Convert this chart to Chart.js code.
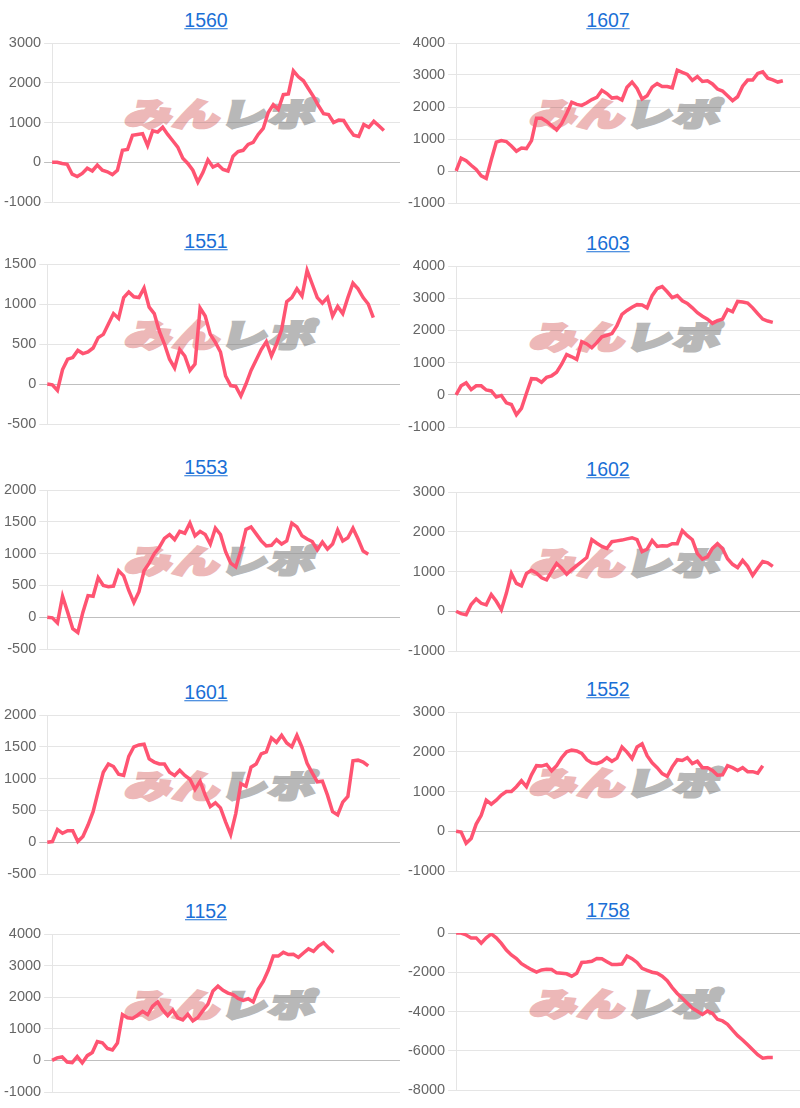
<!DOCTYPE html>
<html><head><meta charset="utf-8">
<script src="https://cdn.jsdelivr.net/npm/chart.js@4.4.1/dist/chart.umd.min.js"></script>
<style>
html,body{margin:0;padding:0;background:#fff;width:800px;height:1108px;overflow:hidden;}
.col{position:absolute;top:0;width:400px;height:1108px;overflow:hidden;}
.ttl{position:absolute;font-family:"Liberation Sans",Arial,sans-serif;font-size:19.5px;color:#1a6fd6;text-decoration:underline;transform:translate(-50%,-50%);white-space:nowrap;line-height:1;}
.wm{position:absolute;transform:translate(-50%,-50%) skewX(-14deg) scaleX(1.45);font-family:"Noto Sans CJK JP",sans-serif;font-weight:900;font-size:32px;white-space:nowrap;line-height:1;z-index:0;letter-spacing:1px;}
.wm .a{color:#edb8b8;-webkit-text-stroke:3px #edb8b8;}
.wm .b{color:#b8b8b8;-webkit-text-stroke:3px #b8b8b8;}
canvas{position:absolute;z-index:1;}
</style>
</head><body>
<div class="col" id="c0" style="left:0"></div>
<div class="col" id="c1" style="left:400px"></div>
<script>
const titles = ['1560','1607','1551','1603','1553','1602','1601','1552','1152','1758'];

const d1560 = [0,0,-30,-50,-300,-360,-280,-150,-220,-70,-200,-240,-310,-200,300,320,680,700,720,420,790,760,880,700,540,380,100,-30,-200,-500,-260,60,-120,-60,-180,-220,150,270,300,450,500,700,850,1250,1450,1330,1700,1720,2300,2150,2050,1850,1650,1420,1220,1200,1000,1060,1050,850,680,650,950,880,1030,920,800];
const d1607 = [0,400,320,180,50,-150,-230,350,900,950,920,780,620,720,700,950,1650,1650,1550,1420,1280,1480,1800,2150,2080,2050,2130,2230,2300,2520,2420,2280,2300,2220,2620,2780,2580,2250,2350,2620,2730,2640,2640,2600,3150,3080,3020,2830,2950,2800,2820,2720,2560,2500,2350,2200,2320,2650,2840,2840,3050,3100,2900,2850,2780,2820];
const d1551 = [0,-10,-80,180,310,330,420,380,400,450,580,620,750,880,820,1080,1150,1090,1080,1200,960,880,660,500,310,200,430,350,170,250,950,850,620,520,400,100,-20,-30,-150,0,170,300,430,530,350,500,680,1030,1080,1190,1100,1420,1250,1080,1010,1080,850,970,880,1080,1260,1190,1080,1000,830];
const d1603 = [0,280,370,160,280,280,150,120,-70,-20,-250,-300,-620,-420,50,500,490,390,540,590,700,950,1250,1180,1100,1650,1580,1460,1620,1800,1850,1900,2150,2500,2620,2720,2800,2790,2700,3080,3300,3360,3200,3020,3080,2920,2840,2700,2550,2440,2350,2220,2300,2350,2650,2580,2900,2880,2850,2700,2520,2350,2290,2250];
const d1553 = [0,-10,-90,330,80,-180,-240,80,340,330,620,500,480,490,730,650,420,230,400,730,850,1000,1100,1240,1300,1220,1350,1320,1480,1280,1350,1300,1150,1400,1300,1030,850,790,1050,1380,1420,1310,1200,1120,1130,1220,1150,1200,1480,1420,1280,1230,1190,1060,1180,1070,1150,1370,1200,1250,1400,1230,1040,990];
const d1602 = [0,-60,-90,170,310,200,160,420,250,40,450,950,700,640,950,1030,960,840,790,1000,1200,1080,930,1050,1150,1250,1350,1800,1710,1630,1580,1750,1770,1790,1820,1850,1800,1500,1560,1780,1630,1650,1640,1700,1700,2030,1900,1800,1450,1310,1370,1580,1700,1580,1320,1180,1100,1280,1130,900,1080,1250,1220,1130];
const d1601 = [0,10,200,140,180,180,10,90,270,480,800,1100,1230,1190,1070,1050,1350,1500,1530,1540,1310,1260,1230,1230,1100,1050,1130,1050,990,830,960,740,560,620,540,320,120,450,920,880,1180,1230,1390,1420,1640,1570,1680,1560,1500,1680,1490,1240,1090,950,960,740,480,430,630,720,1280,1290,1260,1200];
const d1552 = [0,-20,-300,-180,180,400,780,680,780,910,1000,1000,1120,1270,1120,1420,1650,1640,1680,1520,1650,1850,2000,2040,2020,1960,1800,1720,1700,1750,1850,1760,1840,2120,1990,1830,2120,2200,1900,1720,1600,1450,1380,1620,1800,1780,1850,1700,1760,1600,1600,1530,1410,1420,1650,1600,1530,1600,1500,1500,1460,1650];
const d1152 = [0,80,110,-50,-70,120,-80,150,250,600,560,380,330,550,1450,1350,1330,1430,1550,1450,1720,1850,1600,1420,1590,1350,1280,1460,1250,1360,1580,1780,2200,2350,2220,2130,2080,1960,1900,1950,1850,2250,2500,2850,3300,3300,3420,3350,3360,3260,3400,3530,3450,3620,3720,3560,3420];
const d1758 = [0,0,-100,-250,-250,-520,-250,-50,-250,-530,-870,-1120,-1300,-1560,-1720,-1870,-1990,-1880,-1850,-1860,-2030,-2050,-2080,-2200,-2050,-1500,-1480,-1440,-1300,-1310,-1460,-1610,-1600,-1580,-1170,-1310,-1500,-1800,-1900,-2000,-2050,-2200,-2430,-2780,-3080,-3330,-3580,-3830,-3990,-4150,-3980,-4100,-4400,-4480,-4650,-4950,-5230,-5450,-5700,-5950,-6200,-6380,-6350,-6350];

const series = [d1560, d1607, d1551, d1603, d1553, d1602, d1601, d1552, d1152, d1758];
const yMin  = [-1000, -1000, -500, -1000, -500, -1000, -500, -1000, -1000, -8000];
const yMax  = [3000, 4000, 1500, 4000, 2000, 3000, 2000, 3000, 4000, 0];
const yStep = [1000, 1000, 500, 1000, 500, 1000, 500, 1000, 1000, 2000];
const xLabels = Array.from({length: 72}, (_, i) => i + 1);

// layout (pixels)
const plotTop    = [43, 43, 264, 266, 490, 492, 715, 712, 934, 933];
const plotBottom = [202, 203, 424, 427, 649, 651, 874, 871, 1092, 1090];

Chart.defaults.font.family = "'Liberation Sans', Arial, sans-serif";
Chart.defaults.font.size = 14.5;
Chart.defaults.color = '#666';

series.forEach((data, i) => {
  const col = i % 2;
  const host = document.getElementById('c' + col);
  const top = plotTop[i], bot = plotBottom[i];

  const t = document.createElement('a');
  t.className = 'ttl';
  t.href = '#';
  t.textContent = titles[i];
  t.style.left = (col ? 208 : 206) + 'px';
  t.style.top = (top - 22) + 'px';
  host.appendChild(t);

  const wm = document.createElement('div');
  wm.className = 'wm';
  wm.innerHTML = '<span class="a">みん</span><span class="b">レポ</span>';
  wm.style.left = (col ? 228 : 223) + 'px';
  wm.style.top = (top + 69) + 'px';
  host.appendChild(wm);

  const cv = document.createElement('canvas');
  cv.width = 408;
  cv.height = (bot - top) + 24;
  cv.style.left = (col ? 5 : 1) + 'px';
  cv.style.top = (top - 12) + 'px';
  host.appendChild(cv);

  new Chart(cv, {
    type: 'line',
    data: {
      labels: xLabels,
      datasets: [{
        data: data,
        borderColor: 'rgb(255,84,114)',
        backgroundColor: 'rgb(255,84,114)',
        borderWidth: 3.5,
        pointRadius: 0,
        tension: 0,
        fill: false
      }]
    },
    options: {
      responsive: false,
      animation: false,
      devicePixelRatio: 1,
      layout: { padding: { top: 12, bottom: 12, left: 0, right: 0 } },
      plugins: { legend: { display: false }, tooltip: { enabled: false }, title: { display: false } },
      scales: {
        x: { display: false },
        y: {
          min: yMin[i], max: yMax[i],
          ticks: { stepSize: yStep[i], padding: 3, callback: v => String(v), color: '#666' },
          grid: {
            color: ctx => (ctx.tick && ctx.tick.value === 0) ? 'rgba(0,0,0,0.25)' : 'rgba(0,0,0,0.1)',
            tickLength: 8
          },
          border: { color: 'rgba(0,0,0,0.1)' }
        }
      }
    }
  });
});
</script>
</body></html>
